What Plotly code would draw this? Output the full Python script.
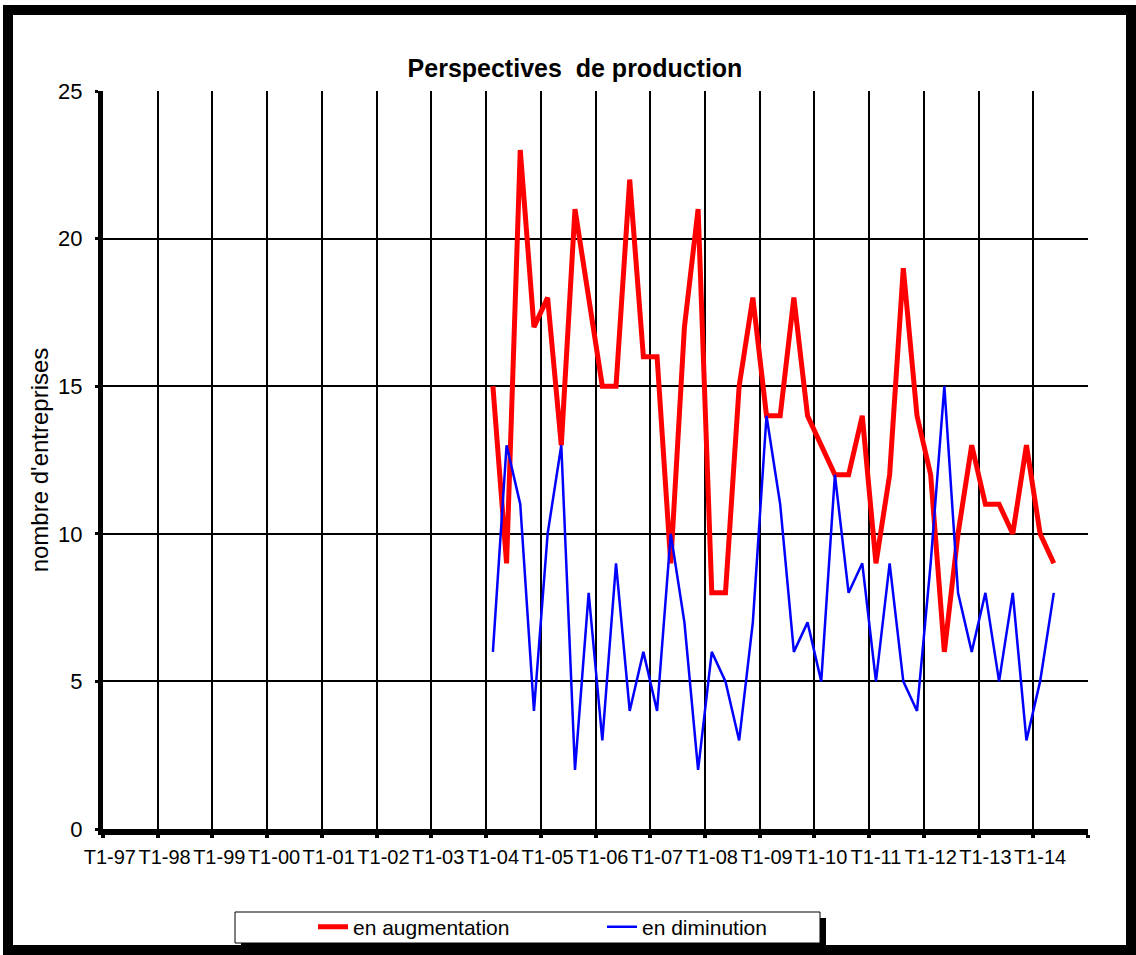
import plotly.graph_objects as go

# Quarterly categories T1-97 ... T4-14
years = ["97", "98", "99", "00", "01", "02", "03", "04", "05", "06",
         "07", "08", "09", "10", "11", "12", "13", "14"]
quarters = [f"T{q}-{y}" for y in years for q in (1, 2, 3, 4)]

# Survey answers, T1-04 to T2-14 (no data before 2004)
en_augmentation = [15, 9, 23, 17,
                   18, 13, 21, 18,
                   15, 15, 22, 16,
                   16, 9, 17, 21,
                   8, 8, 15, 18,
                   14, 14, 18, 14,
                   13, 12, 12, 14,
                   9, 12, 19, 14,
                   12, 6, 10, 13,
                   11, 11, 10, 13,
                   10, 9]
en_diminution = [6, 13, 11, 4,
                 10, 13, 2, 8,
                 3, 9, 4, 6,
                 4, 10, 7, 2,
                 6, 5, 3, 7,
                 14, 11, 6, 7,
                 5, 12, 8, 9,
                 5, 9, 5, 4,
                 9, 15, 8, 6,
                 8, 5, 8, 3,
                 5, 8]

start = quarters.index("T1-04")
pad_before = [None] * start
pad_after = [None] * (len(quarters) - start - len(en_augmentation))
y_aug = pad_before + en_augmentation + pad_after
y_dim = pad_before + en_diminution + pad_after

W, H = 1136, 955
L, R, T, B = 103, 1088, 91, 829   # plot area in pixels

FONT = "Liberation Sans, Arial, sans-serif"


def px(x):
    return (x - L) / (R - L)


def py(y):
    return (B - y) / (B - T)


fig = go.Figure()
fig.add_trace(go.Scatter(x=quarters, y=y_aug, mode="lines", name="en augmentation",
                         line=dict(color="#ff0000", width=5), connectgaps=False))
fig.add_trace(go.Scatter(x=quarters, y=y_dim, mode="lines", name="en diminution",
                         line=dict(color="#0000ff", width=2.5), connectgaps=False))

shapes = [
    # outer frame
    dict(type="rect", xref="paper", yref="paper", x0=px(8), x1=px(1131), y0=py(10), y1=py(950),
         line=dict(color="black", width=10), fillcolor="rgba(0,0,0,0)", layer="below"),
    # legend box shadow + box
    dict(type="rect", xref="paper", yref="paper", x0=px(241), x1=px(826), y0=py(918), y1=py(949),
         line=dict(width=0), fillcolor="black", layer="above"),
    dict(type="rect", xref="paper", yref="paper", x0=px(235), x1=px(820), y0=py(912), y1=py(943),
         line=dict(color="black", width=1), fillcolor="white", layer="above"),
]

fig.update_layout(
    width=W, height=H,
    margin=dict(l=L, r=W - R, t=T, b=H - B),
    paper_bgcolor="white", plot_bgcolor="white",
    title=dict(text="<b>Perspectives  de production</b>", x=575 / W, xref="container",
               xanchor="center", y=1 - 68 / H, yref="container", yanchor="middle",
               font=dict(family=FONT, size=25, color="black")),
    shapes=shapes,
    showlegend=True,
    legend=dict(orientation="h", xref="container", yref="container",
                x=(318 - 5) / W, xanchor="left", y=1 - 927 / H, yanchor="middle",
                bgcolor="rgba(0,0,0,0)", borderwidth=0,
                font=dict(family=FONT, size=21, color="black"),
                entrywidth=244, entrywidthmode="pixels", tracegroupgap=0),
    xaxis=dict(type="category", categoryorder="array", categoryarray=quarters,
               range=[-0.5, len(quarters) - 0.5],
               tickmode="linear", tick0=0, dtick=4, tickson="boundaries",
               showgrid=True, gridcolor="black", gridwidth=1.5,
               showline=True, linecolor="black", linewidth=6,
               ticks="outside", ticklen=3, tickwidth=4, tickcolor="black",
               tickangle=0, ticklabelstandoff=5,
               tickfont=dict(family=FONT, size=20, color="black"),
               zeroline=False),
    yaxis=dict(range=[0, 25], tickmode="linear", tick0=0, dtick=5,
               showgrid=True, gridcolor="black", gridwidth=1.5,
               showline=True, linecolor="black", linewidth=5,
               ticks="outside", ticklen=3, tickwidth=3, tickcolor="black",
               ticklabelstandoff=8,
               tickfont=dict(family=FONT, size=22, color="black"),
               title=dict(text="nombre d'entreprises", standoff=4,
                          font=dict(family=FONT, size=24, color="black")),
               zeroline=False),
)

fig.write_html("out.html")
